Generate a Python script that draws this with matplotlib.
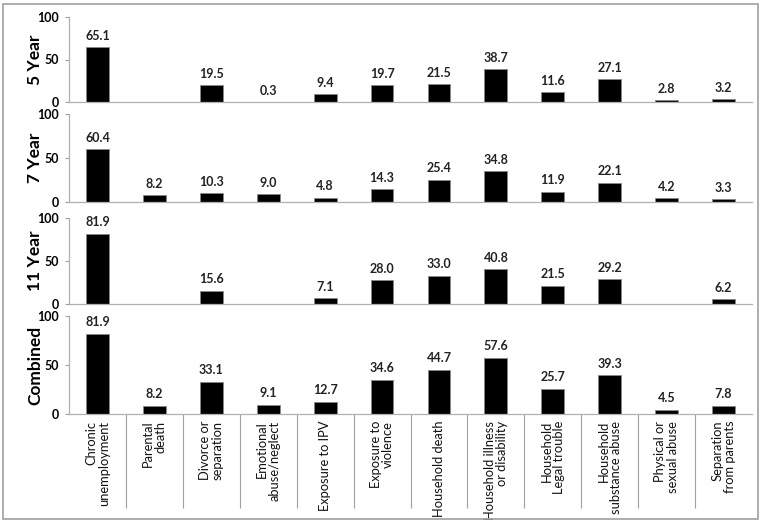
import numpy as np
import matplotlib
matplotlib.use('Agg')
import matplotlib.pyplot as plt
from matplotlib.patches import Rectangle

plt.rcParams['font.family'] = ['Lato', 'DejaVu Sans']

#categories on the x axis
categories = ['Chronic\nunemployment', 'Parental\ndeath', 'Divorce or\nseparation',
              'Emotional\nabuse/neglect', 'Exposure to IPV', 'Exposure to\nviolence',
              'Household death', 'Household illness\nor disability', 'Household\nLegal trouble',
              'Household\nsubstance abuse', 'Physical or\nsexual abuse', 'Separation\nfrom parents']

#percent values per panel, nan where no bar
year5 = [65.1, np.nan, 19.5, 0.3, 9.4, 19.7, 21.5, 38.7, 11.6, 27.1, 2.8, 3.2]
year7 = [60.4, 8.2, 10.3, 9.0, 4.8, 14.3, 25.4, 34.8, 11.9, 22.1, 4.2, 3.3]
year11 = [81.9, np.nan, 15.6, np.nan, 7.1, 28.0, 33.0, 40.8, 21.5, 29.2, np.nan, 6.2]
combined = [81.9, 8.2, 33.1, 9.1, 12.7, 34.6, 44.7, 57.6, 25.7, 39.3, 4.5, 7.8]

panel_names = ['5 Year', '7 Year', '11 Year', 'Combined']
panel_values = [year5, year7, year11, combined]
yticks = [0, 50, 100]

W, H = 762, 523
fig = plt.figure(figsize=(W / 100, H / 100), dpi=100)

#border around the whole figure
fig.patches.append(Rectangle((3 / W, 4 / H), 755 / W, 515 / H, transform=fig.transFigure,
                             fill=False, edgecolor='#a0a0a0', linewidth=1.2))

#pixel top/bottom of each panel
panel_px = [(17, 102), (114, 202), (218, 304), (316, 414)]
left, right = 69, 752

x = np.arange(len(categories))
for i, (name, vals) in enumerate(zip(panel_names, panel_values)):
    top, bot = panel_px[i]
    ax = fig.add_axes([left / W, 1 - bot / H, (right - left) / W, (bot - top) / H])
    vals = np.array(vals, dtype=float)
    ax.bar(x, np.nan_to_num(vals), width=0.4, color='black', edgecolor='#888888', linewidth=0.6)
    for xi, v in zip(x, vals):
        if not np.isnan(v):
            ax.text(xi, v + 6, f'{v:.1f}', ha='center', va='bottom', fontsize=9,
                    fontweight='bold', color='#222222')
    ax.set_xlim(-0.5, len(categories) - 0.5)
    ax.set_ylim(0, 100)
    ax.set_yticks(yticks)
    ax.set_yticklabels([str(t) for t in yticks], fontsize=9, fontweight='bold')
    ax.tick_params(axis='y', length=3, width=0.8, color='#a0a0a0', pad=4)
    ax.set_ylabel(name, fontsize=12.5, fontweight='bold')
    ax.yaxis.set_label_coords(-0.038, 0.5)
    for s in ['top', 'right']:
        ax.spines[s].set_visible(False)
    for s in ['left', 'bottom']:
        ax.spines[s].set_color('#b0b0b0')
        ax.spines[s].set_linewidth(0.9)
    ax.set_xticks([])
    if i == len(panel_names) - 1:
        #separator lines between categories below the last panel
        ax.set_xticks(np.arange(0.5, len(categories) - 1, 1.0), minor=True)
        ax.tick_params(axis='x', which='minor', length=68, width=0.8, color='#a0a0a0',
                       direction='out')
        for xi, lab in zip(x, categories):
            ax.text(xi, -7, lab, rotation=90, ha='center', va='top', multialignment='right',
                    fontsize=9.3, color='#111111', transform=ax.transData, clip_on=False,
                    linespacing=1.05)

fig.savefig('out.png', dpi=100)
